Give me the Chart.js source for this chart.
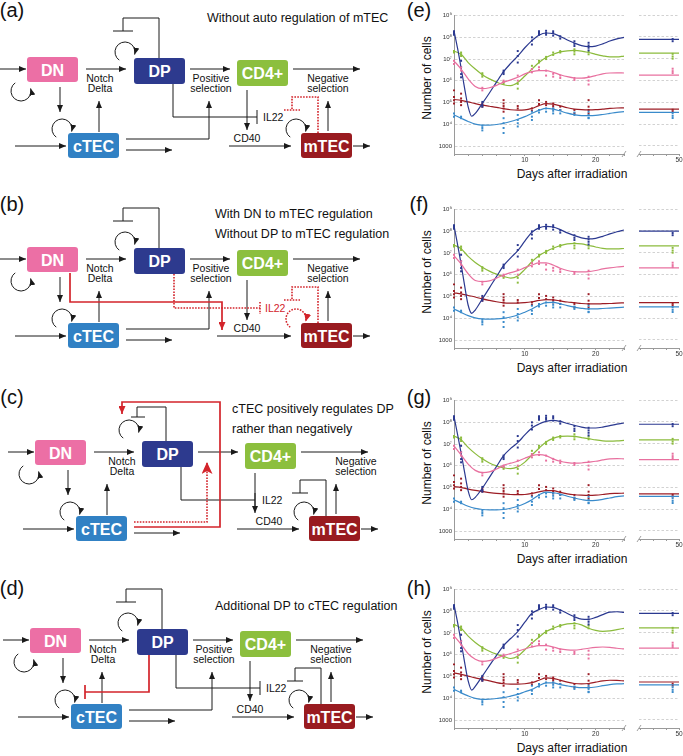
<!DOCTYPE html>
<html><head><meta charset="utf-8">
<script src="https://cdn.jsdelivr.net/npm/chart.js@4.4.1/dist/chart.umd.min.js"></script>
<style>
html,body{margin:0;padding:0;background:#fff;}
#page{position:relative;width:683px;height:756px;overflow:hidden;background:#fff;}
#diag{position:absolute;left:0;top:0;z-index:0;}
canvas{position:absolute;z-index:1;}
</style></head>
<body><div id="page"><svg id="diag" xmlns="http://www.w3.org/2000/svg" width="683" height="756"></svg></div>
<script>
// ================= DATA =================
const curveDays=[0,1,2,3,4,5,6,7,8,9,10,11,12,13,14,15,16,17,18,19,20,21,22,23,24];
const dpDays=[0,0.5,1,1.5,2,2.5,3,4,5,6,7,8,9,10,11,12,13,14,15,16,17,18,19,20,21,22,23,24];
const yTicks=[1e3,1e4,1e5,1e6,1e7,1e8,1e9];
const yTickLabels=['1000','10\u2074','10\u2075','10\u2076','10\u2077','10\u2078','10\u2079'];
const xTicksMain=[0,2,4,6,8,10,12,14,16,18,20,22,24];
const xTicksLate=[44,46,48,50];
const xLabelsShown=[10,20,50];

// experimental points (same in all panels): [day, cells]
const expDN=[[0,8.32e6],[0,5.89e6],[1,4.17e6],[1,2.95e6],[4,4.79e5],[4,3.63e5],[7,1.02e6],[7,8.71e5],[9,1.74e6],[9,1.02e6],[11,3.47e6],[11,2.45e6],[12,4.17e6],[12,3.16e6],[13,2.95e6],[13,1.74e6],[14,2.09e6],[14,1.55e6],[15,1.74e6],[15,1.35e6],[17,1.35e6],[17,1.1e6],[19,1.55e6],[19,1.02e6],[19,6.76e5],[49,3.47e6],[49,2.69e6],[49,2.19e6]];
const expDP=[[0,1.9e8],[0,1.58e8],[0,1.32e8],[1,8.32e6],[1,4.17e6],[1,2.04e6],[1,1.45e6],[4,1.07e5],[4,7.59e4],[4,6.46e4],[7,2.95e6],[7,2.45e6],[7,2.04e6],[9,2.34e7],[9,1.38e7],[9,6.92e6],[11,1.0e8],[11,7.08e7],[11,4.68e7],[12,1.9e8],[12,1.58e8],[12,1.32e8],[13,2.0e8],[13,1.58e8],[13,1.32e8],[14,1.9e8],[14,1.58e8],[14,1.2e8],[15,1.12e8],[15,8.71e7],[17,6.61e7],[17,5.0e7],[17,3.98e7],[19,5.62e7],[19,4.27e7],[19,3.31e7],[19,2.51e7],[49,7.94e7],[49,6.31e7]];
const expCD4=[[0,2.34e7],[0,2.0e7],[1,2.0e7],[1,1.66e7],[1,1.38e7],[4,2.24e6],[4,1.91e6],[4,1.55e6],[7,8.71e5],[7,7.24e5],[9,7.24e5],[9,4.37e5],[11,4.9e6],[11,3.47e6],[12,8.32e6],[12,6.92e6],[13,1.26e7],[13,1.0e7],[14,2.0e7],[14,1.55e7],[15,2.34e7],[15,2.0e7],[17,2.82e7],[17,2.19e7],[17,1.66e7],[19,2.19e7],[19,1.66e7],[49,1.66e7],[49,1.26e7],[49,1.0e7]];
const expCTEC=[[0,3.16e4],[0,2.24e4],[1,2.24e4],[1,1.91e4],[4,8.51e3],[4,6.76e3],[4,5.25e3],[7,1.91e4],[7,1.12e4],[7,6.76e3],[7,3.98e3],[9,2.69e4],[9,1.58e4],[9,1.12e4],[9,7.94e3],[11,3.8e4],[11,2.24e4],[11,1.58e4],[12,4.57e4],[12,3.47e4],[13,5.37e4],[13,3.8e4],[14,5.37e4],[14,4.17e4],[14,3.16e4],[15,4.57e4],[15,3.16e4],[17,3.47e4],[17,2.69e4],[19,3.8e4],[19,2.69e4],[19,2.0e4],[19,1.91e4],[49,3.16e4],[49,2.4e4],[49,1.91e4]];
const expMTEC=[[0,3.63e5],[0,1.82e5],[0,1.29e5],[0,9.12e4],[1,2.57e5],[1,1.55e5],[1,1.07e5],[1,7.59e4],[4,9.12e4],[4,7.59e4],[4,6.46e4],[7,1.29e5],[7,9.12e4],[7,6.92e4],[7,5.37e4],[7,3.8e4],[9,6.92e4],[9,5.37e4],[11,5.37e4],[11,4.17e4],[12,1.29e5],[12,8.51e4],[13,1.07e5],[13,7.59e4],[14,9.12e4],[14,6.92e4],[14,5.37e4],[15,6.46e4],[15,4.57e4],[17,4.57e4],[17,3.16e4],[19,1.29e5],[19,6.46e4],[19,4.57e4],[19,3.16e4],[49,4.57e4],[49,3.8e4]];

// model curves, panel (e)
const eDN=[8.32e6,3.47e6,1.23e6,5.5e5,4.37e5,4.79e5,6.17e5,8.71e5,1.1e6,1.45e6,2.09e6,2.63e6,2.95e6,2.95e6,2.45e6,1.91e6,1.55e6,1.35e6,1.32e6,1.45e6,1.74e6,2.09e6,2.29e6,2.34e6,2.29e6];
const eDP=[2.0e8,3.16e7,3.98e6,4.47e5,6.31e4,2.34e4,3.16e4,9.12e4,2.75e5,8.71e5,2.63e6,6.31e6,1.38e7,3.31e7,7.08e7,1.26e8,1.58e8,1.48e8,1.1e8,7.59e7,5.5e7,4.17e7,3.72e7,3.98e7,5.0e7,6.76e7,8.51e7,1.0e8];
const eCD4=[2.34e7,1.66e7,6.92e6,3.47e6,1.91e6,1.23e6,8.71e5,6.61e5,6.03e5,8.32e5,1.66e6,3.47e6,6.92e6,1.17e7,1.66e7,2.14e7,2.4e7,2.51e7,2.34e7,2.0e7,1.66e7,1.41e7,1.26e7,1.26e7,1.38e7];
const eCTEC=[2.69e4,1.91e4,1.35e4,1.02e4,9.12e3,9.12e3,9.77e3,1.12e4,1.35e4,1.7e4,2.24e4,3.16e4,4.37e4,5.37e4,5.0e4,4.07e4,3.24e4,2.75e4,2.51e4,2.51e4,2.57e4,2.82e4,3.16e4,3.55e4,3.8e4];
const eMTEC=[1.38e5,1.26e5,1.07e5,8.91e4,7.59e4,6.76e4,6.03e4,5.25e4,4.68e4,4.47e4,4.57e4,5.37e4,7.24e4,8.91e4,8.51e4,7.08e4,5.75e4,5.0e4,4.68e4,4.57e4,4.68e4,5.0e4,5.37e4,5.62e4,5.75e4];
const eLate=[1.78e6,7.59e7,1.78e7,3.47e4,4.9e4];
// panel (f)
const fDN=[7.59e6,3.16e6,1.12e6,5.5e5,4.9e5,5.25e5,7.08e5,9.77e5,1.26e6,1.55e6,2.14e6,2.82e6,3.55e6,3.55e6,2.82e6,2.0e6,1.58e6,1.41e6,1.38e6,1.41e6,1.58e6,1.86e6,2.09e6,2.29e6,2.45e6];
const fDP=[1.82e8,2.51e7,3.16e6,3.16e5,3.98e4,1.7e4,2.4e4,7.76e4,2.51e5,8.32e5,2.63e6,6.03e6,1.29e7,3.55e7,9.12e7,1.45e8,1.7e8,1.58e8,1.2e8,8.51e7,6.31e7,5.0e7,4.47e7,4.79e7,5.89e7,7.59e7,9.55e7,1.15e8];
const fCD4=[2.34e7,1.58e7,7.08e6,3.72e6,2.24e6,1.48e6,1.07e6,8.51e5,7.08e5,8.91e5,1.78e6,3.98e6,7.59e6,1.17e7,1.66e7,2.19e7,2.63e7,2.82e7,2.63e7,2.24e7,1.91e7,1.66e7,1.55e7,1.55e7,1.62e7];
const fCTEC=[2.69e4,1.86e4,1.32e4,1.05e4,9.33e3,9.12e3,9.33e3,1.0e4,1.15e4,1.41e4,1.91e4,2.69e4,3.98e4,5.25e4,5.37e4,4.68e4,3.8e4,3.24e4,2.88e4,2.69e4,2.69e4,2.82e4,2.95e4,3.09e4,3.24e4];
const fMTEC=[1.48e5,1.32e5,1.12e5,9.55e4,7.76e4,6.61e4,5.75e4,5.13e4,5.0e4,5.0e4,5.25e4,5.75e4,6.61e4,7.24e4,7.08e4,6.31e4,5.62e4,5.25e4,4.79e4,4.57e4,4.57e4,4.68e4,4.79e4,5.0e4,5.13e4];
const fLate=[2.0e6,9.77e7,2.04e7,3.31e4,5.13e4];
// panel (g)
const gDN=[8.32e6,3.16e6,1.2e6,6.17e5,4.9e5,5.25e5,7.08e5,1.05e6,1.32e6,1.62e6,2.24e6,2.95e6,3.24e6,2.95e6,2.09e6,1.62e6,1.41e6,1.32e6,1.35e6,1.48e6,1.62e6,1.86e6,2.09e6,2.14e6,2.09e6];
const gDP=[1.86e8,2.82e7,3.98e6,5.01e5,7.08e4,2.75e4,3.55e4,9.33e4,2.95e5,9.33e5,2.95e6,6.31e6,1.17e7,2.63e7,5.5e7,8.32e7,1.1e8,1.23e8,1.1e8,8.91e7,7.24e7,6.03e7,5.5e7,5.5e7,6.03e7,7.08e7,8.32e7,9.33e7];
const gCD4=[2.34e7,1.58e7,7.08e6,3.63e6,2.09e6,1.35e6,1.0e6,8.13e5,7.41e5,8.91e5,1.48e6,3.16e6,6.46e6,1.26e7,1.82e7,2.24e7,2.34e7,2.24e7,2.0e7,1.78e7,1.55e7,1.41e7,1.38e7,1.41e7,1.48e7];
const gCTEC=[2.75e4,1.91e4,1.38e4,1.1e4,9.77e3,9.33e3,9.33e3,9.77e3,1.12e4,1.38e4,1.86e4,2.75e4,4.57e4,6.17e4,5.75e4,5.0e4,3.98e4,3.31e4,2.82e4,2.51e4,2.57e4,2.88e4,3.31e4,3.8e4,4.17e4];
const gMTEC=[1.1e5,1.0e5,8.51e4,7.41e4,6.61e4,5.89e4,5.37e4,5.13e4,4.79e4,4.68e4,4.79e4,5.37e4,6.31e4,7.24e4,7.24e4,6.03e4,5.13e4,4.68e4,4.47e4,4.37e4,4.47e4,4.79e4,5.25e4,5.37e4,5.5e4];
const gLate=[1.86e6,7.76e7,1.48e7,3.89e4,5.0e4];
// panel (h)
const hDN=[7.41e6,3.02e6,1.12e6,6.31e5,5.0e5,5.37e5,7.08e5,9.12e5,1.15e6,1.45e6,1.86e6,2.29e6,2.63e6,2.63e6,2.29e6,1.86e6,1.7e6,1.66e6,1.78e6,2.0e6,2.19e6,2.29e6,2.19e6,2.0e6,1.86e6];
const hDP=[2.09e8,3.16e7,3.98e6,4.47e5,6.31e4,2.4e4,3.55e4,1.05e5,3.16e5,9.33e5,2.63e6,5.62e6,1.17e7,3.16e7,8.13e7,1.2e8,1.58e8,1.51e8,1.15e8,7.94e7,5.62e7,4.37e7,4.27e7,5.25e7,7.08e7,9.12e7,9.55e7,8.91e7];
const hCD4=[2.51e7,1.66e7,7.24e6,3.72e6,2.19e6,1.45e6,1.07e6,8.51e5,6.76e5,8.51e5,1.7e6,3.47e6,6.46e6,1.17e7,1.66e7,2.19e7,2.63e7,2.82e7,2.4e7,1.66e7,1.32e7,1.2e7,1.26e7,1.45e7,1.66e7];
const hCTEC=[2.57e4,1.78e4,1.29e4,1.0e4,8.91e3,9.12e3,9.77e3,1.07e4,1.26e4,1.51e4,2.0e4,2.57e4,3.8e4,5.13e4,5.13e4,4.27e4,3.72e4,3.31e4,3.09e4,3.09e4,3.31e4,3.8e4,4.27e4,4.57e4,4.68e4];
const hMTEC=[1.48e5,1.26e5,1.05e5,8.71e4,7.41e4,6.31e4,5.25e4,4.68e4,4.47e4,4.47e4,4.68e4,5.25e4,6.76e4,8.71e4,8.32e4,6.76e4,5.5e4,4.79e4,4.57e4,4.79e4,5.5e4,6.31e4,6.76e4,6.61e4,6.31e4];
const hLate=[1.95e6,7.59e7,1.66e7,4.07e4,5.5e4];

// ================= STYLE / LAYOUT =================
const FONT='"Liberation Sans", Arial, Helvetica, sans-serif';
const SERIES_COLORS=['#e8709f','#2b3990','#8bbb3c','#3a8bcb','#9c1d25'];
const EXP=[expDN,expDP,expCD4,expCTEC,expMTEC];
const PANELS=[
  {T:15, models:[eDN,eDP,eCD4,eCTEC,eMTEC], late:eLate},
  {T:209,models:[fDN,fDP,fCD4,fCTEC,fMTEC], late:fLate},
  {T:400,models:[gDN,gDP,gCD4,gCTEC,gMTEC], late:gLate},
  {T:589,models:[hDN,hDP,hCD4,hCTEC,hMTEC], late:hLate}
];
const Y_MIN=430, Y_MAX=1e9, LATE_MIN=43.7, LATE_MAX=50;

const page=document.getElementById('page');
const svg=document.getElementById('diag');
const NS='http://www.w3.org/2000/svg';
function mk(tag,attrs,parent){const e=document.createElementNS(NS,tag);for(const k in attrs){if(attrs[k]!==null&&attrs[k]!==undefined)e.setAttribute(k,attrs[k]);}(parent||svg).appendChild(e);return e;}
function txt(g,x,y,s,o={}){const t=mk('text',{x:x,y:y,'font-size':o.size||10.5,'font-weight':o.weight||null,fill:o.fill||'#111','text-anchor':o.anchor||'middle','dominant-baseline':'central','font-family':FONT,transform:o.transform||null},g);t.textContent=s;return t;}

// ---------- markers ----------
const defs=mk('defs',{});
function marker(id,w,h,fill,d){const m=mk('marker',{id:id,markerWidth:w,markerHeight:h,refX:w,refY:h/2,orient:'auto',markerUnits:'userSpaceOnUse',viewBox:`0 0 ${w} ${h}`},defs);mk('path',{d:d,fill:fill},m);}
marker('ah',7,6,'#1a1a1a','M0,0 L7,3 L0,6 z');
marker('ahr',8,7,'#d3242b','M0,0 L8,3.5 L0,7 z');
marker('ahrBig',12,11,'#d3242b','M0,0 L12,5.5 L0,11 L3,5.5 z');

const BLACK='#1a1a1a', RED='#d3242b';
function poly(g,pts,o={}){return mk('polyline',{points:pts.map(p=>p.join(',')).join(' '),fill:'none',stroke:o.color||BLACK,'stroke-width':o.w||1,'stroke-dasharray':o.dash||null,'marker-end':o.arrow?`url(#${o.arrow})`:null},g);}
function arr(g,pts,o={}){return poly(g,pts,Object.assign({arrow:'ah'},o));}
function seg(g,x1,y1,x2,y2,o={}){return mk('line',{x1,y1,x2,y2,stroke:o.color||BLACK,'stroke-width':o.w||1,'stroke-dasharray':o.dash||null},g);}
function loop(g,cx,cy,r,dir,o={}){
  const rad=d=>d*Math.PI/180;
  const a0=dir==='cw'?125:235, a1=dir==='cw'?15:-15, sw=dir==='cw'?1:0;
  const x0=cx+r*Math.cos(rad(a0)),y0=cy+r*Math.sin(rad(a0)),x1=cx+r*Math.cos(rad(a1)),y1=cy+r*Math.sin(rad(a1));
  mk('path',{d:`M${x0.toFixed(2)},${y0.toFixed(2)} A${r},${r} 0 1 ${sw} ${x1.toFixed(2)},${y1.toFixed(2)}`,fill:'none',stroke:o.color||BLACK,'stroke-width':o.w||1,'stroke-dasharray':o.dash||null,'marker-end':`url(#${o.arrow||'ah'})`},g);
}
const BOXES=[['DN',27,57,51,25,'#ec6fa5'],['DP',134,58,51,26,'#2d3a8e'],['CD4+',237,60,51,26,'#8cbf3e'],['cTEC',68,133,51,25,'#3181c4'],['mTEC',301,133,51,25,'#991b20']];

function diagram(dx,dy,v){
  const g=mk('g',{transform:`translate(${dx},${dy})`});
  const RD={color:RED,w:1.6,dash:'1.6 1.3'};
  // main arrows
  arr(g,[[0,69],[26,69]]);
  arr(g,[[86,69],[126,69]]);
  arr(g,[[190,69],[230,69]]);
  arr(g,[[293,69],[360,69]]);
  arr(g,[[60,87],[60,112]]);
  arr(g,[[99,132],[99,101]]);
  arr(g,[[15,146],[66,146]]);
  arr(g,[[126,150],[172,150]]);
  arr(g,[[247,90],[247,130]]);
  arr(g,[[v==='b'?217:229,146],[291,146]]);
  arr(g,[[328,131],[328,101]]);
  arr(g,[[353,146],[370,146]]);
  // loops
  loop(g,21,91,10,'ccw');
  loop(g,62,129,10,'cw');
  if(v==='c') loop(g,121,47,10,'cw'); else loop(g,125,52,10,'cw');
  if(v==='b') loop(g,296,129,10,'cw',{color:RED,w:1.5,dash:'1.6 1.3',arrow:'ahr'}); else loop(g,296,129,10,'cw');
  // DP self inhibition
  if(v==='c'){poly(g,[[158,58],[158,24],[129,24],[129,34]]);seg(g,123,34,137,34);}
  else {poly(g,[[159,58],[159,18],[123,18],[123,31]]);seg(g,113,31,133,31);}
  // DP -> IL22 inhibition
  if(v==='b'){poly(g,[[174,84],[174,118],[260,118]],RD);seg(g,260,112,260,124,RD);}
  else {const bx=v==='c'?247:257;poly(g,[[173,84],[173,117],[bx,117]]);seg(g,bx,110,bx,124);}
  // cTEC -> positive selection
  if(v==='c'){poly(g,[[126,139],[199,139],[199,79]],Object.assign({arrow:'ahrBig'},RD));}
  else arr(g,[[126,139],[209,139],[209,101]]);
  // mTEC self inhibition
  if(v==='a'||v==='b'){poly(g,[[318,133],[318,97],[292,97],[292,110]],RD);seg(g,284,110,300,110,RD);}
  else {poly(g,[[318,133],[318,97],[292,97],[292,110]]);seg(g,284,110,300,110);}
  // specials
  if(v==='b') poly(g,[[70,83],[70,112],[222,112],[222,140]],{color:RED,w:1.7,arrow:'ahr'});
  if(v==='c') poly(g,[[126,144],[212,144],[212,19],[114,19],[114,31]],{color:RED,w:1.7,arrow:'ahr'});
  if(v==='d'){poly(g,[[146,84],[146,121],[82,121]],{color:RED,w:1.7});seg(g,82,114,82,128,{color:RED,w:1.7});}
  // boxes
  BOXES.forEach(([t,x,y,w,h,c])=>{mk('rect',{x:x,y:y,width:w,height:h,rx:3,fill:c},g);txt(g,x+w/2,y+h/2+0.5,t,{size:16,weight:'bold',fill:'#fff'});});
  // labels
  const nx=v==='c'?114:100;
  txt(g,nx,78,'Notch');txt(g,nx,88,'Delta');
  if(v!=='c'){txt(g,211,78,'Positive');txt(g,211,88,'selection');}
  const ngx=v==='c'?348:328;
  txt(g,ngx,78,'Negative');txt(g,ngx,88,'selection');
  if(v==='b') txt(g,265,118,'IL22',{anchor:'start',fill:RED});
  else txt(g,v==='c'?254:263,117,'IL22',{anchor:'start'});
  txt(g,v==='c'?261:247,138,'CD40');
  return g;
}
diagram(0,0,'a');
diagram(0,190,'b');
diagram(8,383,'c');
diagram(3,571,'d');

// titles
const TS={anchor:'start',size:12.5};
txt(null,207,18,'Without auto regulation of mTEC',TS);
txt(null,215,214,'With DN to mTEC regulation',TS);
txt(null,215,234,'Without DP to mTEC regulation',TS);
txt(null,232,409,'cTEC positively regulates DP',TS);
txt(null,232,429,'rather than negatively',TS);
txt(null,215,606,'Additional DP to cTEC regulation',TS);
// panel letters
[['(a)',12,10],['(b)',12,204],['(c)',12,397],['(d)',12,588],['(e)',419,10],['(f)',419,204],['(g)',419,397],['(h)',419,588]].forEach(([t,x,y])=>txt(null,x,y,t,{size:20}));
// axis titles
PANELS.forEach(p=>{
  txt(null,427,p.T+63,'Number of cells',{size:12,transform:`rotate(-90 427 ${p.T+63})`});
  txt(null,572,p.T+159,'Days after irradiation',{size:12});
});

// ================= CHARTS =================
const breakMark={id:'brk',afterDraw(chart,args,opts){const {ctx,chartArea:a}=chart;const x=opts.side==='right'?a.right:a.left;ctx.save();ctx.strokeStyle='#888';ctx.lineWidth=0.8;ctx.beginPath();ctx.moveTo(x-2,a.bottom+3);ctx.lineTo(x+2,a.bottom-3);ctx.stroke();ctx.restore();}};

function mkCanvas(left,top,w,h){const c=document.createElement('canvas');c.width=w;c.height=h;c.style.left=left+'px';c.style.top=top+'px';c.style.width=w+'px';c.style.height=h+'px';page.appendChild(c);return c;}

function yScale(show){return {type:'logarithmic',min:Y_MIN,max:Y_MAX,
  afterBuildTicks:s=>{s.ticks=yTicks.map(v=>({value:v}));},
  afterFit:s=>{s.width=show?26:0;},
  ticks:{display:show,callback:(v)=>{const i=yTicks.indexOf(v);return i<0?'':yTickLabels[i];},font:{family:FONT,size:6},color:'#333',padding:2,autoSkip:false,maxRotation:0},
  grid:{color:'#c6c6c6',lineWidth:0.8,drawTicks:false},
  border:{display:show,color:'#9a9a9a',width:1,dash:[2.5,2]}};}
function xScale(min,max,ticks){return {type:'linear',min:min,max:max,
  afterBuildTicks:s=>{s.ticks=ticks.map(v=>({value:v}));},
  afterFit:s=>{s.height=14;},
  ticks:{callback:v=>xLabelsShown.includes(v)?String(v):'',font:{family:FONT,size:6.5},color:'#333',padding:0,autoSkip:false,maxRotation:0},
  grid:{drawOnChartArea:false,drawTicks:true,tickLength:2,color:'#999'},
  border:{color:'#9a9a9a',width:1}};}

function buildDatasets(p,which){
  const ds=[];
  SERIES_COLORS.forEach((col,i)=>{
    const pts=EXP[i].filter(q=>which==='main'?q[0]<=24:q[0]>24).map(q=>({x:q[0],y:q[1]}));
    ds.push({data:pts,showLine:false,pointStyle:'rect',pointRadius:1.4,pointBorderWidth:0,pointBackgroundColor:col,borderColor:col,clip:false});
    let line;
    if(which==='main'){const xs=i===1?dpDays:curveDays;line=xs.map((d,k)=>({x:d,y:p.models[i][k]}));}
    else line=[{x:LATE_MIN,y:p.late[i]},{x:LATE_MAX,y:p.late[i]}];
    ds.push({data:line,showLine:true,pointRadius:0,borderColor:col,borderWidth:1.2,cubicInterpolationMode:'monotone',fill:false,clip:false});
  });
  return ds;
}

PANELS.forEach(p=>{
  const c1=mkCanvas(428,p.T-5,200,158);
  new Chart(c1,{type:'scatter',data:{datasets:buildDatasets(p,'main')},plugins:[breakMark],
    options:{responsive:false,animation:false,devicePixelRatio:1,events:[],
      layout:{padding:{top:5,right:2,left:0,bottom:0}},
      plugins:{legend:{display:false},tooltip:{enabled:false},brk:{side:'right'}},
      scales:{x:xScale(0,24,xTicksMain),y:yScale(true)}}});
  const c2=mkCanvas(635,p.T-5,48,158);
  new Chart(c2,{type:'scatter',data:{datasets:buildDatasets(p,'late')},plugins:[breakMark],
    options:{responsive:false,animation:false,devicePixelRatio:1,events:[],
      layout:{padding:{top:5,right:3,left:0,bottom:0}},
      plugins:{legend:{display:false},tooltip:{enabled:false},brk:{side:'left'}},
      scales:{x:xScale(LATE_MIN,LATE_MAX,xTicksLate),y:yScale(false)}}});
});
</script>
</body></html>
